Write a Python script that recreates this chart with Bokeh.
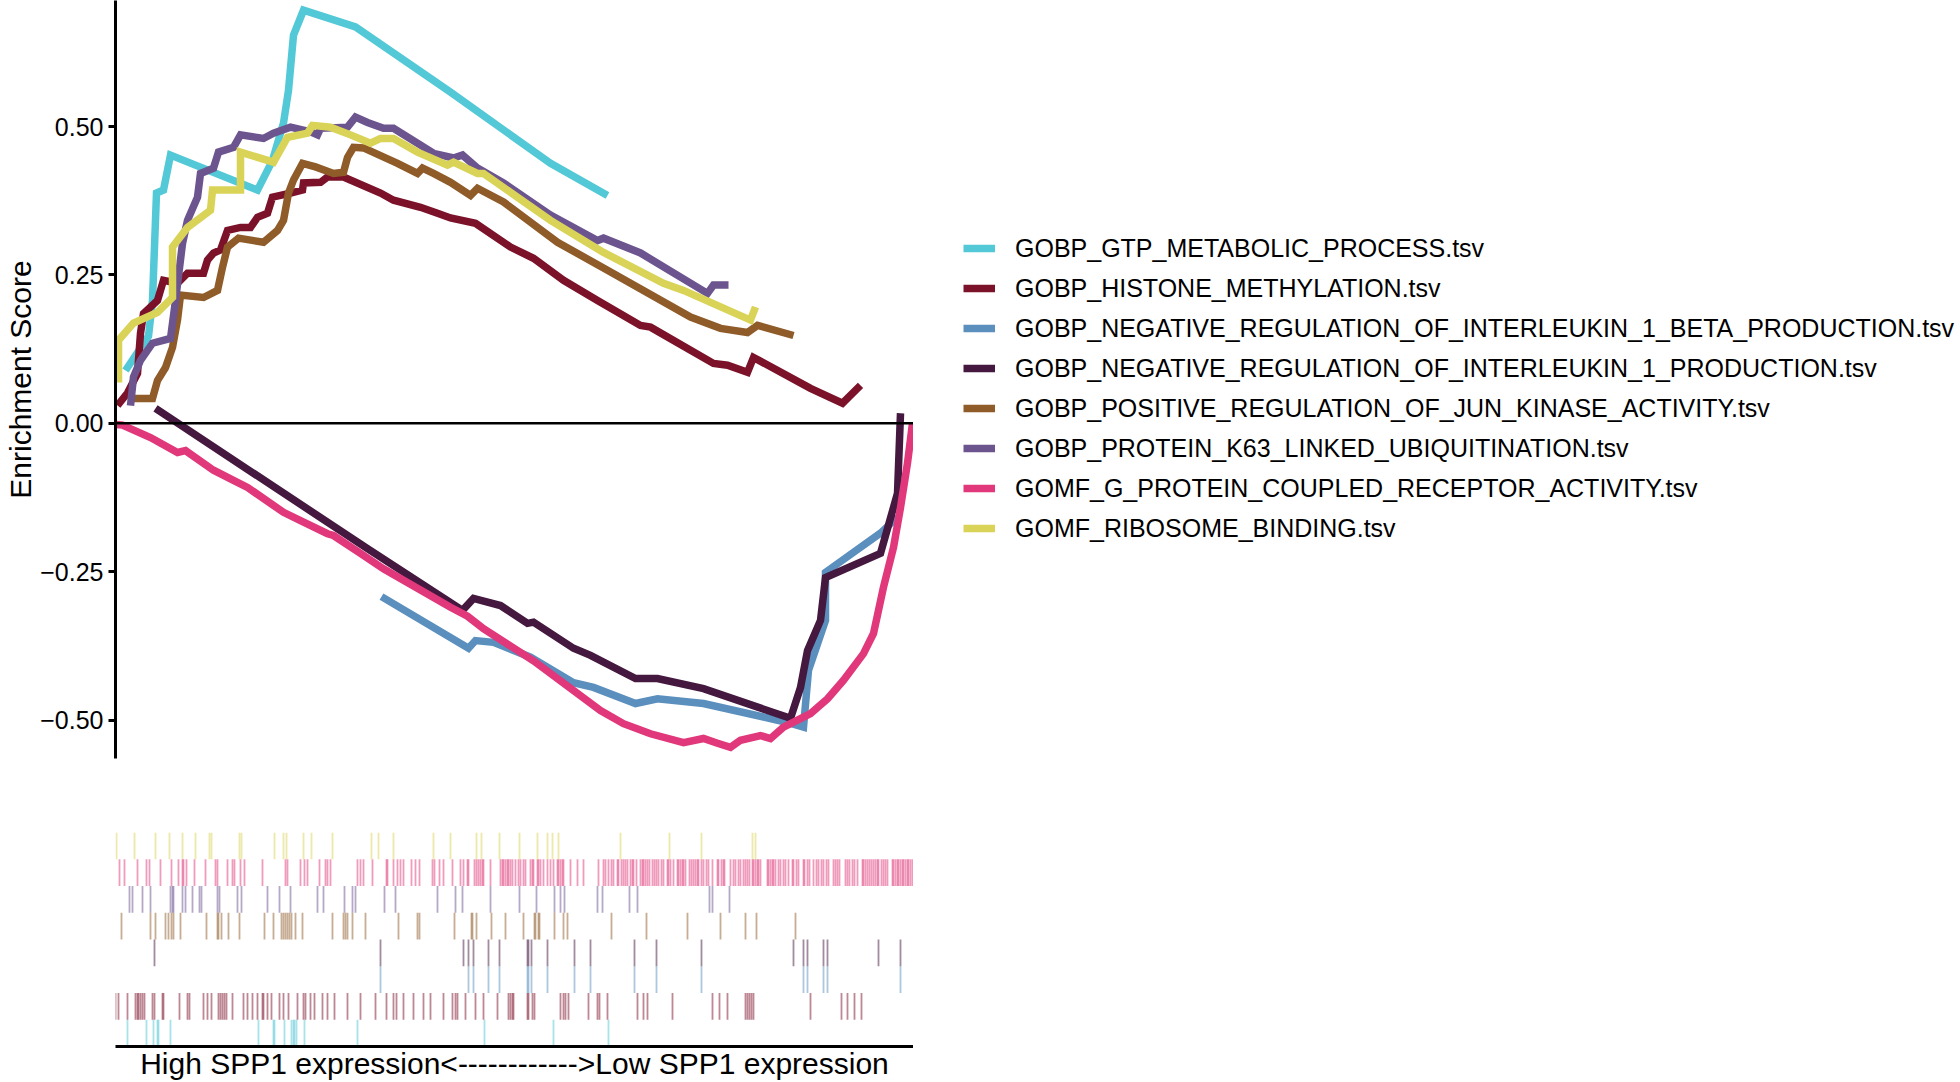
from bokeh.plotting import figure
from bokeh.layouts import column, row
from bokeh.models import Legend, LegendItem, Span, FixedTicker, Range1d
from bokeh.embed import file_html
from bokeh.resources import INLINE

FONT = "Liberation Sans"

# ---------------- data ----------------
set_names = [
    "GOBP_GTP_METABOLIC_PROCESS.tsv",
    "GOBP_HISTONE_METHYLATION.tsv",
    "GOBP_NEGATIVE_REGULATION_OF_INTERLEUKIN_1_BETA_PRODUCTION.tsv",
    "GOBP_NEGATIVE_REGULATION_OF_INTERLEUKIN_1_PRODUCTION.tsv",
    "GOBP_POSITIVE_REGULATION_OF_JUN_KINASE_ACTIVITY.tsv",
    "GOBP_PROTEIN_K63_LINKED_UBIQUITINATION.tsv",
    "GOMF_G_PROTEIN_COUPLED_RECEPTOR_ACTIVITY.tsv",
    "GOMF_RIBOSOME_BINDING.tsv",
]
set_colors = ["#53C8D6", "#7B1229", "#5B8FBE", "#44183F",
              "#8F5B29", "#6C548F", "#E0387A", "#D9D358"]

# running enrichment score: rank position (0..798) and ES
gtp_rank = [10, 33, 37, 41, 48, 55, 142, 157, 168, 173, 178, 188, 240, 335, 435, 492]
gtp_es = [0.089, 0.147, 0.207, 0.388, 0.393, 0.452, 0.393, 0.443, 0.506, 0.561,
          0.654, 0.696, 0.668, 0.558, 0.438, 0.384]

histone_rank = [2, 12, 22, 25, 28, 42, 48, 62, 72, 88, 92, 98, 105, 112, 125, 135, 142,
                152, 157, 175, 187, 188, 205, 212, 228, 265, 278, 305, 322, 335, 360,
                395, 418, 448, 482, 525, 535, 598, 612, 632, 638, 695, 727, 745]
histone_es = [0.030, 0.051, 0.084, 0.152, 0.185, 0.207, 0.241, 0.236, 0.253, 0.253,
              0.275, 0.287, 0.292, 0.325, 0.330, 0.330, 0.347, 0.354, 0.381, 0.388,
              0.393, 0.405, 0.406, 0.415, 0.415, 0.388, 0.376, 0.364, 0.354, 0.346,
              0.337, 0.297, 0.278, 0.241, 0.207, 0.165, 0.162, 0.101, 0.098, 0.086,
              0.111, 0.059, 0.034, 0.064]

il1b_rank = [266, 353, 360, 378, 415, 458, 478, 520, 542, 588, 672, 688, 693, 710,
             710, 765, 782]
il1b_es = [-0.292, -0.379, -0.366, -0.369, -0.394, -0.437, -0.445, -0.472, -0.464,
           -0.472, -0.504, -0.512, -0.416, -0.332, -0.251, -0.185, -0.158]

il1_rank = [40, 252, 347, 358, 385, 412, 418, 458, 475, 520, 542, 588, 675, 685, 692,
            705, 710, 765, 782, 785]
il1_es = [0.025, -0.211, -0.315, -0.295, -0.307, -0.337, -0.335, -0.379, -0.391,
          -0.430, -0.430, -0.447, -0.497, -0.445, -0.383, -0.332, -0.260, -0.219,
          -0.118, 0.017]

jun_rank = [13, 37, 42, 50, 57, 62, 65, 88, 102, 107, 112, 123, 148, 162, 168, 173,
            178, 187, 200, 218, 228, 232, 238, 248, 282, 302, 307, 318, 335, 355, 362,
            388, 442, 492, 575, 605, 632, 642, 678]
jun_es = [0.042, 0.042, 0.072, 0.094, 0.128, 0.174, 0.216, 0.212, 0.224, 0.263, 0.297,
          0.312, 0.305, 0.325, 0.342, 0.388, 0.410, 0.438, 0.432, 0.421, 0.423, 0.448,
          0.465, 0.464, 0.438, 0.421, 0.430, 0.421, 0.406, 0.384, 0.396, 0.373, 0.305,
          0.258, 0.179, 0.160, 0.153, 0.165, 0.148]

k63_rank = [15, 18, 25, 37, 55, 60, 67, 72, 82, 85, 98, 103, 118, 125, 148, 158, 175,
            195, 202, 205, 232, 240, 252, 268, 278, 318, 338, 347, 362, 388, 435, 482,
            488, 525, 592, 598, 613]
k63_es = [0.030, 0.078, 0.106, 0.135, 0.143, 0.207, 0.303, 0.342, 0.381, 0.421, 0.430,
          0.457, 0.465, 0.486, 0.480, 0.489, 0.499, 0.491, 0.486, 0.497, 0.499, 0.516,
          0.507, 0.497, 0.497, 0.455, 0.447, 0.452, 0.430, 0.405, 0.351, 0.308, 0.312,
          0.287, 0.219, 0.233, 0.233]

gpcr_rank = [1, 7, 35, 62, 70, 98, 118, 132, 168, 185, 212, 218, 245, 268, 335, 352,
             368, 418, 485, 508, 535, 568, 588, 602, 615, 625, 645, 655, 668, 695, 712,
             728, 748, 758, 768, 778, 785, 792, 797]
gpcr_es = [-0.002, -0.003, -0.024, -0.049, -0.046, -0.079, -0.096, -0.108, -0.150,
           -0.164, -0.186, -0.189, -0.219, -0.245, -0.310, -0.325, -0.346, -0.400,
           -0.484, -0.506, -0.523, -0.538, -0.531, -0.539, -0.546, -0.534, -0.526,
           -0.531, -0.512, -0.489, -0.464, -0.433, -0.388, -0.354, -0.276, -0.209,
           -0.142, -0.067, 0.000]

ribo_rank = [3, 3, 18, 42, 57, 57, 72, 95, 97, 125, 125, 158, 172, 192, 197, 215, 235,
             255, 265, 278, 302, 332, 338, 362, 368, 435, 488, 548, 568, 635, 640]
ribo_es = [0.069, 0.140, 0.169, 0.187, 0.212, 0.297, 0.330, 0.359, 0.393, 0.393, 0.457,
           0.440, 0.482, 0.489, 0.502, 0.499, 0.486, 0.472, 0.480, 0.480, 0.457, 0.435,
           0.440, 0.421, 0.421, 0.342, 0.288, 0.236, 0.224, 0.174, 0.196]

# gene hit positions (rank position) for the rug panel
gtp_hits = [12, 31, 38, 42, 43, 55, 143, 158, 159, 169, 176, 178, 179, 181, 189, 242,
            369, 438, 493]
histone_hits = [0, 3, 12, 20, 22, 23, 25, 27, 29, 37, 39, 47, 48, 64, 72, 74, 88, 92, 96,
                103, 105, 107, 109, 111, 117, 128, 132, 137, 142, 147, 148, 152, 156,
                164, 168, 173, 182, 188, 190, 195, 199, 207, 212, 219, 232, 245, 260,
                271, 278, 281, 288, 298, 308, 315, 328, 337, 340, 342, 350, 360, 368,
                382, 393, 395, 397, 398, 412, 413, 417, 419, 445, 448, 450, 453, 473,
                482, 484, 492, 522, 528, 532, 557, 597, 604, 612, 630, 632, 634, 636,
                638, 695, 726, 732, 739, 746]
il1b_hits = [265, 353, 358, 373, 384, 412, 413, 416, 432, 459, 475, 519, 541, 586, 688,
             692, 708, 712, 785]
il1_hits = [39, 265, 348, 353, 358, 373, 384, 412, 413, 416, 432, 459, 475, 519, 541,
            586, 678, 688, 692, 708, 712, 763, 785]
jun_hits = [6, 35, 40, 50, 53, 56, 58, 65, 91, 102, 103, 106, 113, 124, 149, 158, 166,
            168, 170, 172, 174, 176, 180, 187, 217, 228, 230, 232, 237, 250, 283, 302,
            304, 339, 356, 357, 361, 376, 390, 408, 419, 420, 423, 424, 439, 448, 452,
            496, 531, 572, 605, 630, 641, 680]
k63_hits = [14, 17, 27, 35, 55, 57, 58, 67, 70, 77, 84, 86, 102, 104, 122, 126, 152, 164,
            175, 202, 208, 229, 237, 240, 269, 280, 322, 340, 347, 375, 404, 421, 439,
            445, 449, 482, 487, 514, 522, 594, 597, 614]
gpcr_hits = [4, 9, 22, 31, 34, 45, 56, 63, 67, 68, 71, 79, 90, 100, 102, 112, 117, 119,
             125, 129, 147, 170, 172, 185, 189, 192, 204, 210, 212, 215, 242, 245, 248,
             257, 271, 272, 278, 282, 285, 288, 296, 300, 304, 317, 319, 324, 328, 337,
             345, 348, 352, 353, 359, 361, 363, 365, 367, 368, 375, 385, 387, 388, 390,
             392, 393, 395, 397, 400, 403, 405, 408, 410, 415, 417, 418, 422, 423, 425,
             428, 432, 435, 438, 442, 443, 445, 447, 448, 455, 462, 468, 483, 488, 490,
             493, 496, 498, 502, 503, 506, 508, 510, 512, 515, 517, 518, 521, 525, 527,
             528, 530, 532, 534, 537, 539, 541, 543, 546, 548, 552, 553, 555, 558, 562,
             563, 565, 567, 568, 570, 574, 576, 578, 580, 582, 583, 586, 588, 591, 593,
             597, 602, 603, 606, 608, 609, 615, 618, 620, 623, 625, 628, 630, 632, 634,
             637, 638, 640, 642, 643, 645, 652, 653, 655, 657, 658, 660, 663, 665, 668,
             670, 673, 677, 678, 681, 683, 688, 689, 692, 694, 698, 701, 703, 706, 708,
             711, 713, 718, 720, 722, 724, 730, 732, 734, 737, 739, 742, 747, 748, 750,
             752, 754, 756, 758, 760, 762, 763, 766, 768, 770, 772, 777, 778, 780, 782,
             783, 785, 787, 788, 790, 792, 793, 795, 797]
ribo_hits = [1, 19, 40, 54, 67, 80, 94, 96, 124, 126, 159, 168, 171, 188, 196, 217, 256,
             263, 278, 318, 335, 361, 366, 384, 404, 422, 432, 437, 443, 505, 554, 586,
             637, 640]

y_ticks = [-0.5, -0.25, 0.0, 0.25, 0.5]
y_tick_labels = ["\u22120.50", "\u22120.25", "0.00", "0.25", "0.50"]
x_label = "High SPP1 expression<------------>Low SPP1 expression"

curves = [(gtp_rank, gtp_es), (histone_rank, histone_es), (il1b_rank, il1b_es),
          (il1_rank, il1_es), (jun_rank, jun_es), (k63_rank, k63_es),
          (gpcr_rank, gpcr_es), (ribo_rank, ribo_es)]
hits = [gtp_hits, histone_hits, il1b_hits, il1_hits, jun_hits, k63_hits, gpcr_hits,
        ribo_hits]

LEFT = 115
PLOT_W = 913

# ---------------- main panel ----------------
x_rng = Range1d(0, 798)
p = figure(width=PLOT_W, height=770, output_backend="svg", toolbar_location=None,
           x_range=x_rng, y_range=Range1d(-0.5647, 0.7124),
           min_border_left=LEFT, min_border_right=0, min_border_top=0,
           min_border_bottom=12)
p.xaxis.visible = False
p.grid.visible = False
p.outline_line_color = None

yax = p.yaxis[0]
yax.ticker = FixedTicker(ticks=y_ticks)
yax.major_label_overrides = {t: l for t, l in zip(y_ticks, y_tick_labels)}
yax.axis_line_width = 3
yax.axis_line_color = "black"
yax.major_tick_line_width = 3
yax.major_tick_out = 7
yax.major_tick_in = 0
yax.minor_tick_out = 0
yax.minor_tick_in = 0
yax.major_label_standoff = 5
yax.major_label_text_font = FONT
yax.major_label_text_font_size = "25px"
yax.major_label_text_color = "black"
yax.axis_label = "Enrichment Score"
yax.axis_label_text_font = FONT
yax.axis_label_text_font_size = "30px"
yax.axis_label_text_font_style = "normal"
yax.axis_label_text_color = "black"
yax.axis_label_standoff = 0

p.add_layout(Span(location=0, dimension="width", line_color="black", line_width=2.5))

for col, (xr, ye) in zip(set_colors, curves):
    p.line(xr, ye, line_color=col, line_width=7.5, line_join="miter")

# ---------------- legend panel ----------------
# the series are drawn again here outside the visible range, only to key the legend
lg = figure(width=1960 - PLOT_W, height=770, output_backend="svg",
            toolbar_location=None, x_range=Range1d(-2000, -1999),
            y_range=Range1d(-0.5647, 0.7124),
            min_border=0, min_border_left=0, min_border_right=0,
            min_border_top=0, min_border_bottom=0)
lg.axis.visible = False
lg.grid.visible = False
lg.outline_line_color = None

items = []
for name, col, (xr, ye) in zip(set_names, set_colors, curves):
    r = lg.line(xr, ye, line_color=col, line_width=7.5)
    items.append(LegendItem(label=name, renderers=[r]))

legend = Legend(items=items, location=(50, 227), padding=0, margin=0,
                spacing=10, glyph_width=32, glyph_height=30, label_height=30,
                label_standoff=20, label_text_font=FONT,
                label_text_font_size="25px", label_text_color="black",
                border_line_alpha=0, background_fill_alpha=0)
lg.add_layout(legend)

# ---------------- rug panel ----------------
q = figure(width=PLOT_W, height=312, output_backend="svg", toolbar_location=None,
           x_range=x_rng, y_range=Range1d(0, 8),
           min_border_left=LEFT, min_border_right=0, min_border_top=62,
           min_border_bottom=36)
q.yaxis.visible = False
q.grid.visible = False
q.outline_line_color = None

for rw, (col, hx) in enumerate(zip(set_colors, hits)):
    q.segment(x0=hx, y0=[rw] * len(hx), x1=hx, y1=[rw + 1] * len(hx),
              line_color=col, line_width=1.8, line_alpha=0.5)

xax = q.xaxis[0]
xax.ticker = FixedTicker(ticks=[])
xax.axis_line_width = 3
xax.axis_line_color = "black"
xax.major_tick_out = 0
xax.major_tick_in = 0
xax.minor_tick_out = 0
xax.minor_tick_in = 0
xax.major_label_standoff = 0
xax.axis_label = x_label
xax.axis_label_text_font = FONT
xax.axis_label_text_font_size = "30px"
xax.axis_label_text_font_style = "normal"
xax.axis_label_text_color = "black"
xax.axis_label_standoff = 0

layout = row(column(p, q, spacing=0), lg, spacing=0)
open("out.html", "w").write(file_html(layout, INLINE))
